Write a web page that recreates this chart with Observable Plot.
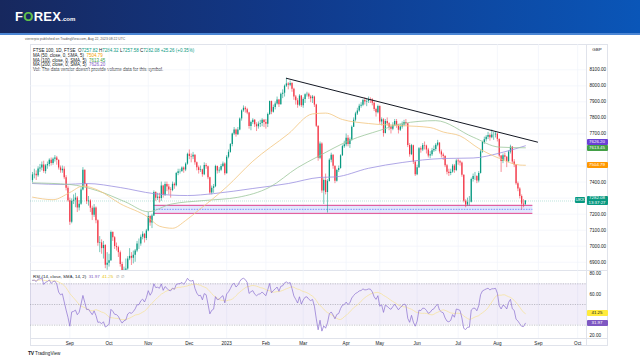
<!DOCTYPE html>
<html><head><meta charset="utf-8">
<script src="https://cdn.jsdelivr.net/npm/d3@7"></script>
<script src="https://cdn.jsdelivr.net/npm/@observablehq/plot@0.6"></script>
<style>
body{margin:0;width:640px;height:360px;overflow:hidden;background:#fff;font-family:"Liberation Sans",Arial,sans-serif;}
#wrap{position:absolute;left:0;top:0;width:640px;height:360px;}
#hdr{position:absolute;left:0;top:0;width:640px;height:33px;background:linear-gradient(90deg,#17285e 0%,#11398a 45%,#0a56b8 100%);border-bottom:2px solid #4b86d4;}
#logo{position:absolute;left:15px;top:9px;font:bold 13px "Liberation Sans",Arial,sans-serif;color:#fff;letter-spacing:0.3px;}
#logo .o{color:#63c04b;}
#logo small{font-size:6px;letter-spacing:0;}
#pub{position:absolute;left:25px;top:37px;font-size:3.4px;color:#555;}
.lg{position:absolute;left:33px;font-size:4.5px;color:#131722;white-space:nowrap;}
.t{color:#089981}.c50{color:#f59f00}.c100{color:#43a047}.c200{color:#7e57c2}
.tag{position:absolute;font-size:4.4px;line-height:6px;height:6px;text-align:center;color:#fff;border-radius:1px;}
.frame{position:absolute;border:0.6px solid #e0e3eb;box-sizing:border-box;}
.hl{position:absolute;height:0;border-top:0.6px solid #e0e3eb;}
.vl{position:absolute;width:0;border-left:0.6px solid #e0e3eb;}
#gbp{position:absolute;left:587px;top:46px;width:20px;height:8px;font-size:4.4px;line-height:8px;color:#131722;text-align:center;}
#rsit{position:absolute;left:33px;top:274px;font-size:4.4px;color:#131722;white-space:nowrap;}
#tv{position:absolute;left:28px;top:350px;font-size:4.6px;color:#131722;}
#tv b{font-size:5px;letter-spacing:-0.3px;}
</style></head><body>
<div id="wrap">
<div id="hdr"><div id="logo">F<span class="o">O</span>REX<small>.com</small></div></div>
<div id="pub">vierrerpio published on TradingView.com, Aug 22, 2023 08:22 UTC</div>
<div class="frame" style="left:30px;top:44px;width:578px;height:302px;"></div>
<div class="vl" style="left:586px;top:44px;height:302px;"></div>
<div class="hl" style="left:30px;top:270px;width:578px;"></div>
<div class="hl" style="left:30px;top:338px;width:578px;"></div>
<div id="gbp">GBP</div>
<div class="lg" style="top:48px">FTSE 100, 1D, FTSE &nbsp;<span>O</span><span class="t">7257.82</span> <span>H</span><span class="t">7284.32</span> <span>L</span><span class="t">7257.58</span> <span>C</span><span class="t">7282.08</span> <span class="t">+25.26 (+0.35%)</span></div>
<div class="lg" style="top:53px">MA (50, close, 0, SMA, 5) &nbsp;<span class="c50">7504.79</span></div>
<div class="lg" style="top:57.5px">MA (100, close, 0, SMA, 5) &nbsp;<span class="c100">7613.45</span></div>
<div class="lg" style="top:62px">MA (200, close, 0, SMA, 5) &nbsp;<span class="c200">7626.20</span></div>
<div class="lg" style="top:66.5px">Vol: The data vendor doesn't provide volume data for this symbol.</div>
<div id="rsit">RSI (14, close, SMA, 14, 2) &nbsp;<span class="c200">31.97</span> &nbsp;<span style="color:#e8c400">41.25</span> &nbsp;<span style="color:#888">∅ &nbsp;∅</span></div>
<div id="tv"><b>TV</b> TradingView</div>
</div>
<script>
// ---- daily FTSE 100 bars, 3 Aug 2022 .. 22 Aug 2023 (bar index 0..264) ----
const C = [
7445,7448,7439,7482,7488,7507,7466,7501,7509,7536,7516,7542,7550,7534,7488,7471,7480,7427,7361,7284,
7149,7281,7287,7300,7238,7262,7351,7473,7385,7277,7282,7237,7193,7238,7159,7019,7021,6985,7005,6882,6894,
6909,7086,7053,6998,6991,6960,6886,6826,6850,6858,6921,6937,6925,6944,6970,7014,7014,7056,7074,7048,7095,
7186,7145,7189,7335,7299,7306,7297,7376,7318,7385,7370,7351,7347,7386,7377,7453,7465,7466,7487,7475,7512,7573,
7559,7556,7568,7521,7490,7472,7476,7446,7503,7496,7427,7332,7361,7371,7497,7469,7474,7497,7513,7452,
7555,7585,7634,7699,7725,7695,7725,7794,7844,7860,7851,7831,7747,7771,7785,7757,7745,7761,7765,7785,7772,
7761,7821,7902,7836,7865,7886,7911,7882,7947,7954,7998,8012,8004,8014,7979,7931,7907,7879,7936,7876,
7915,7944,7948,7930,7920,7930,7880,7748,7548,7638,7345,7410,7335,7404,7536,7567,7499,7405,7472,7485,7564,7621,7632,
7673,7635,7663,7742,7786,7825,7843,7872,7879,7909,7899,7903,7914,7912,7892,7853,7832,7871,
7774,7788,7703,7778,7764,7742,7730,7755,7778,7751,7723,7743,7756,7771,7763,7628,7571,7627,7523,7446,
7490,7607,7600,7628,7625,7600,7562,7571,7595,7603,7629,7643,7588,7569,7559,7502,7462,7453,7462,7500,7472,7532,
7527,7519,7442,7281,7257,7274,7274,7416,7434,7435,7406,7454,7588,7647,7664,7679,7691,7677,7693,7694,7699,
7666,7562,7529,7564,7554,7527,7587,7618,7525,7507,7389,7357,7310,7262,7257,7282.08];
const O = [
7409,7445,7448,7439,7482,7488,7507,7466,7501,7509,7536,7516,7542,7550,7534,7488,7471,7480,7427,7361,
7284,7149,7281,7287,7300,7238,7262,7351,7473,7385,7277,7282,7237,7193,7238,7159,7019,7021,6985,7005,6882,
6894,6909,7086,7053,6998,6991,6960,6886,6826,6850,6858,6921,6937,6925,6944,6970,7014,7014,7056,7074,7048,
7095,7186,7145,7189,7335,7299,7306,7297,7376,7318,7385,7370,7351,7347,7386,7377,7453,7465,7466,7487,7475,7512,
7573,7559,7556,7568,7521,7490,7472,7476,7446,7503,7496,7427,7332,7361,7371,7497,7469,7474,7497,7513,
7452,7555,7585,7634,7699,7725,7695,7725,7794,7844,7860,7851,7831,7747,7771,7785,7757,7745,7761,7765,7785,
7772,7761,7821,7902,7836,7865,7886,7911,7882,7947,7954,7998,8012,8004,8014,7979,7931,7907,7879,7936,
7876,7915,7944,7948,7930,7920,7930,7880,7748,7548,7638,7345,7410,7335,7404,7536,7567,7499,7405,7472,7485,7564,7621,
7632,7673,7635,7663,7742,7786,7825,7843,7872,7879,7909,7899,7903,7914,7912,7892,7853,7832,
7871,7774,7788,7703,7778,7764,7742,7730,7755,7778,7751,7723,7743,7756,7771,7763,7628,7571,7627,7523,
7446,7490,7607,7600,7628,7625,7600,7562,7571,7595,7603,7629,7643,7588,7569,7559,7502,7462,7453,7462,7500,7472,
7532,7527,7519,7442,7281,7257,7274,7274,7416,7434,7435,7406,7454,7588,7647,7664,7679,7691,7677,7693,7694,
7699,7666,7562,7529,7564,7554,7527,7587,7618,7525,7507,7389,7357,7310,7262,7257.82];
const H = [
7460,7480,7470,7495,7510,7525,7530,7510,7525,7545,7550,7550,7565,7560,7540,7500,7500,7495,7440,7375,
7300,7295,7320,7330,7310,7285,7365,7490,7475,7390,7310,7290,7250,7260,7245,7165,7060,7040,7030,7010,6960,
6950,7095,7090,7060,7020,7000,6970,6900,6870,6920,6935,6985,6960,6970,6980,7030,7045,7070,7090,7080,7105,
7210,7190,7200,7345,7340,7330,7330,7400,7380,7400,7400,7385,7365,7400,7395,7460,7480,7480,7495,7495,7520,7580,
7600,7575,7585,7570,7525,7500,7500,7480,7520,7515,7500,7430,7375,7385,7505,7500,7490,7510,7525,7520,
7565,7600,7640,7705,7740,7730,7740,7800,7850,7875,7870,7860,7835,7780,7795,7790,7770,7775,7785,7795,7790,
7790,7830,7905,7905,7880,7900,7930,7915,7955,7975,8005,8047,8020,8030,8020,7985,7940,7920,7945,7940,
7925,7950,7960,7955,7940,7940,7935,7885,7750,7650,7645,7420,7450,7415,7545,7580,7570,7500,7480,7500,7570,7630,7655,
7700,7690,7675,7750,7800,7835,7860,7885,7895,7915,7925,7915,7930,7925,7920,7900,7860,7880,
7875,7800,7795,7790,7800,7770,7755,7770,7790,7790,7760,7760,7775,7785,7790,7765,7640,7635,7630,7530,
7505,7615,7620,7640,7650,7630,7610,7590,7610,7625,7640,7660,7645,7600,7580,7565,7510,7480,7480,7510,7510,7540,
7545,7535,7525,7445,7290,7300,7310,7425,7450,7460,7440,7465,7600,7655,7680,7690,7710,7700,7725,7710,7715,
7705,7670,7565,7575,7580,7560,7595,7630,7620,7540,7510,7400,7365,7320,7290,7284.32];
const L = [
7395,7420,7410,7430,7460,7470,7455,7450,7480,7495,7500,7505,7525,7505,7475,7455,7455,7415,7345,7275,
7130,7140,7260,7240,7210,7220,7255,7345,7370,7260,7250,7210,7160,7180,7140,7000,6960,6950,6920,6860,6850,
6870,6905,7030,6980,6970,6930,6870,6800,6710,6840,6850,6910,6880,6890,6900,6960,6980,7000,7040,7020,7035,
7090,7125,7110,7185,7280,7285,7270,7280,7300,7310,7340,7320,7300,7340,7355,7370,7440,7450,7460,7455,7465,7505,
7540,7520,7540,7505,7470,7450,7460,7430,7440,7480,7415,7320,7320,7330,7365,7450,7455,7465,7490,7440,
7450,7545,7580,7620,7690,7680,7690,7720,7780,7835,7830,7820,7730,7720,7760,7740,7715,7730,7740,7745,7740,
7730,7740,7815,7820,7830,7850,7880,7865,7880,7920,7930,7990,7975,7995,7960,7910,7880,7860,7870,7865,
7860,7890,7930,7915,7895,7890,7865,7740,7530,7540,7330,7260,7320,7207,7400,7520,7480,7390,7400,7460,7480,7560,7610,
7620,7620,7610,7655,7740,7775,7815,7835,7860,7870,7880,7870,7890,7890,7875,7840,7805,7825,
7760,7750,7680,7700,7750,7720,7700,7720,7745,7735,7700,7715,7730,7745,7750,7615,7555,7565,7510,7435,
7440,7485,7580,7590,7600,7575,7550,7545,7560,7585,7590,7620,7575,7550,7535,7490,7445,7435,7440,7455,7455,7465,
7505,7500,7430,7270,7240,7250,7250,7270,7400,7410,7390,7395,7450,7580,7635,7650,7665,7655,7670,7660,7675,
7650,7550,7460,7515,7535,7490,7520,7575,7510,7490,7380,7340,7295,7225,7240,7257.58];
// closes 13 Jul - 2 Aug 2022, used only to warm up the RSI
const preC = [7156,7040,7159,7223,7297,7264,7271,7276,7306,7306,7348,7345,7423,7413,7409];

// moving averages: [bar, value]
const ma50 = [[0,7306],[11,7290],[20,7335],[27,7375],[35,7350],[47,7265],[62,7180],[68,7125],[75,7112],[82,7160],[89,7225],[96,7290],[104,7370],[118,7530],[137,7700],[150,7825],[157,7830],[166,7790],[180,7765],[198,7752],[213,7740],[220,7712],[229,7688],[239,7610],[250,7548],[261,7506],[264,7504.79]];
const ma100 = [[0,7395],[20,7385],[35,7345],[50,7275],[62,7215],[74,7262],[92,7285],[110,7305],[127,7368],[142,7490],[153,7560],[170,7660],[186,7722],[198,7765],[216,7783],[236,7680],[250,7618],[264,7613.45]];
const ma200 = [[0,7391],[17,7385],[29,7391],[47,7366],[65,7328],[83,7316],[97,7328],[118,7360],[137,7391],[154,7429],[162,7432],[180,7486],[198,7522],[220,7547],[236,7550],[250,7580],[264,7626.20]];
const trend = [[136,8047],[270.5,7649]];
const zone = {x1:65, x2:268, top:7255, mid:7230, bottom:7205};
const lastPrice = 7282.08;
const rsiLast = 31.97, rsiSignalLast = 41.25;

const monthIdx = [20,41,62,84,104,125,145,168,186,206,228,249,271,292];
const monthLabels = ["Sep","Oct","Nov","Dec","2023","Feb","Mar","Apr","May","Jun","Jul","Aug","Sep","Oct"];
const priceGrid = [6900,7000,7100,7200,7300,7400,7500,7600,7700,7800,7900,8000,8100];
const priceTicks = [6900,7000,7100,7200,7400,7700,7800,7900,8000,8100];
const rsiTicks = [20,60,80];
const rsiBands = [70,50,30];

// ---- build ----
const UP = "#089981", DOWN = "#f23645";
const bars = C.map((c,i)=>({i, o:O[i], h:H[i], l:L[i], c, col: c>=O[i]?UP:DOWN}));
const pts = a => a.map(([i,v])=>({i,v}));

// RSI (Wilder, 14)
const all = preC.concat(C);
let ag=0, al=0;
for (let k=1;k<15;k++){const d=all[k]-all[k-1]; if(d>0) ag+=d; else al-=d;}
ag/=14; al/=14;
const rsi=[];
for (let k=15;k<all.length;k++){const d=all[k]-all[k-1]; ag=(ag*13+Math.max(d,0))/14; al=(al*13+Math.max(-d,0))/14; rsi.push({i:k-15, v:100-100/(1+ag/al)});}

const xDomain = [-1.071, 296.73];
const fmt = d=>d.toFixed(2);
const labelMap = new Map(monthIdx.map((d,i)=>[d,monthLabels[i]]));
const wrap = document.getElementById("wrap");

const price = Plot.plot({
  width:640, height:226, marginLeft:30, marginRight:54, marginTop:0, marginBottom:0,
  style:{background:"transparent", fontSize:"4.6px", fontFamily:"Liberation Sans, Arial, sans-serif", color:"#131722"},
  color:{type:"identity"},
  x:{domain:xDomain, axis:null},
  y:{domain:[6848.7,8257.7], axis:"right", ticks:priceTicks, tickFormat:fmt, tickSize:0, tickPadding:3, label:null},
  marks:[
    Plot.ruleY(priceGrid, {stroke:"#f0f3fa", strokeWidth:0.7}),
    Plot.ruleX(monthIdx, {stroke:"#f0f3fa", strokeWidth:0.7}),
    Plot.ruleY([lastPrice], {stroke:UP, strokeOpacity:0.45, strokeWidth:0.6, strokeDasharray:"1,1"}),
    Plot.rect([zone], {x1:"x1", x2:"x2", y1:"bottom", y2:"top", fill:"#4f6df5", fillOpacity:0.16}),
    Plot.ruleY([zone], {x1:"x1", x2:"x2", y:"mid", stroke:"#3d5afe", strokeWidth:0.6, strokeDasharray:"1.5,1.2"}),
    Plot.ruleY([zone,zone], {x1:"x1", x2:"x2", y:(d,k)=>k?d.top:d.bottom, stroke:"#e0458f", strokeWidth:1}),
    Plot.ruleX(bars, {x:"i", y1:"l", y2:"h", stroke:"col", strokeWidth:0.55, clip:true}),
    Plot.ruleX(bars, {x:"i", y1:"o", y2:"c", stroke:"col", strokeWidth:1.25, clip:true}),
    Plot.line(pts(ma200), {x:"i", y:"v", stroke:"#9b8fe0", strokeWidth:0.8, curve:"monotone-x", clip:true}),
    Plot.line(pts(ma100), {x:"i", y:"v", stroke:"#9cc79a", strokeWidth:0.8, curve:"monotone-x", clip:true}),
    Plot.line(pts(ma50), {x:"i", y:"v", stroke:"#f3c57f", strokeWidth:0.8, curve:"monotone-x", clip:true}),
    Plot.line(pts(trend), {x:"i", y:"v", stroke:"#131722", strokeWidth:1})
  ]
});
price.style.position="absolute"; price.style.left="0px"; price.style.top="44px";
wrap.appendChild(price);

const rsiPlot = Plot.plot({
  width:640, height:80, marginLeft:30, marginRight:54, marginTop:0, marginBottom:12,
  style:{background:"transparent", fontSize:"4.6px", fontFamily:"Liberation Sans, Arial, sans-serif", color:"#131722"},
  x:{domain:xDomain, ticks:monthIdx, tickFormat:d=>labelMap.get(d), tickSize:0, tickPadding:3, label:null},
  y:{domain:[17.1,82.9], axis:"right", ticks:rsiTicks, tickFormat:fmt, tickSize:0, tickPadding:3, label:null},
  marks:[
    Plot.ruleX(monthIdx, {stroke:"#f0f3fa", strokeWidth:0.7}),
    Plot.rect([{a:70,b:30}], {x1:xDomain[0], x2:xDomain[1], y1:"b", y2:"a", fill:"#7e57c2", fillOpacity:0.1}),
    Plot.ruleY(rsiBands, {stroke:"#8a8d96", strokeWidth:0.5, strokeDasharray:"1.2,1.2"}),
    Plot.lineY(rsi, Plot.windowY({k:14, anchor:"end"}, {x:"i", y:"v", stroke:"#f6e3a0", strokeWidth:0.8})),
    Plot.line(rsi, {x:"i", y:"v", stroke:"#8a6fd0", strokeWidth:0.7, clip:true})
  ]
});
rsiPlot.style.position="absolute"; rsiPlot.style.left="0px"; rsiPlot.style.top="270px";
wrap.appendChild(rsiPlot);

// value tags on the price / RSI axes, placed through the plots' own scales
function tag(top, left, w, text, bg, fg){
  const d=document.createElement("div"); d.className="tag";
  d.style.top=(top-3)+"px"; d.style.left=left+"px"; d.style.width=w+"px";
  d.style.background=bg; d.style.color=fg||"#fff"; d.textContent=text; wrap.appendChild(d);
}
const py = v => 44 + price.scale("y").apply(v);
const ry = v => 270 + rsiPlot.scale("y").apply(v);
tag(py(ma200[ma200.length-1][1])-3.5, 586.5, 21, fmt(7626.20), "#6a3fd6");
tag(py(ma100[ma100.length-1][1])+1, 586.5, 21, fmt(7613.45), "#43a047");
tag(py(ma50[ma50.length-1][1]), 586.5, 21, fmt(7504.79), "#ff9800");
tag(py(lastPrice), 575, 10, "UKX", "#089981");
const d2=document.createElement("div"); d2.className="tag";
d2.style.top=(py(lastPrice)-4)+"px"; d2.style.left="586.5px"; d2.style.width="21px"; d2.style.height="9px"; d2.style.lineHeight="4.5px";
d2.style.background="#089981"; d2.innerHTML=fmt(lastPrice)+"<br>13:37:27"; wrap.appendChild(d2);
tag(ry(rsiSignalLast), 586.5, 21, fmt(rsiSignalLast), "#ffeb3b", "#131722");
tag(ry(rsiLast), 586.5, 21, fmt(rsiLast), "#7e57c2");
</script>
</body></html>
